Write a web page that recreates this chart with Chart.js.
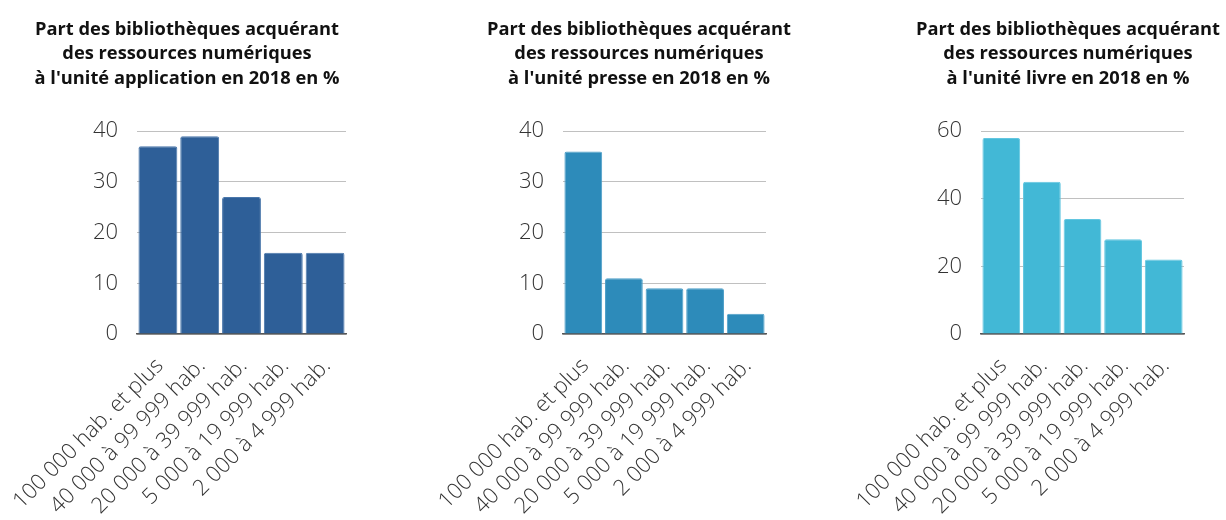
<!DOCTYPE html>
<html>
<head>
<meta charset="utf-8">
<script src="https://cdn.jsdelivr.net/npm/chart.js@4"></script>
<style>
    html, body { margin: 0; padding: 0; background: #fff; overflow: hidden; width: 1226px; height: 520px; }
    .box { position: absolute; top: 0; height: 520px; }
    #box-app { left: 0; width: 347px; }
    #box-presse { left: 400px; width: 397px; }
    #box-livre { left: 830px; width: 396px; }
</style>
</head>
<body>
<div class="box" id="box-app"><canvas id="chart-app"></canvas></div>
<div class="box" id="box-presse"><canvas id="chart-presse"></canvas></div>
<div class="box" id="box-livre"><canvas id="chart-livre"></canvas></div>
<script>
const categories = ['100 000 hab. et plus', '40 000 à 99 999 hab.', '20 000 à 39 999 hab.', '5 000 à 19 999 hab.', '2 000 à 4 999 hab.'];

const applicationValues = [37, 39, 27, 16, 16];
const presseValues = [36, 11, 9, 9, 4];
const livreValues = [58, 45, 34, 28, 22];

const applicationTicks = [0, 10, 20, 30, 40];
const presseTicks = [0, 10, 20, 30, 40];
const livreTicks = [0, 20, 40, 60];

const applicationTitle = ['Part des bibliothèques acquérant', 'des ressources numériques', "à l'unité application en 2018 en %"];
const presseTitle = ['Part des bibliothèques acquérant', 'des ressources numériques', "à l'unité presse en 2018 en %"];
const livreTitle = ['Part des bibliothèques acquérant', 'des ressources numériques', "à l'unité livre en 2018 en %"];

const FONT = "'Open Sans', 'DejaVu Sans', sans-serif";

// layout: [left padding, y axis width, right spacer width]
new Chart(
    document.getElementById('chart-app').getContext('2d'),
    barConfig(applicationValues, applicationTicks, applicationTitle, '#2e5f98', '#4a77ab', [27, 110, 1]));

new Chart(
    document.getElementById('chart-presse').getContext('2d'),
    barConfig(presseValues, presseTicks, presseTitle, '#2d8bba', '#4d9fc8', [81, 82, 31]));

new Chart(
    document.getElementById('chart-livre').getContext('2d'),
    barConfig(livreValues, livreTicks, livreTitle, '#42b8d6', '#62c6e0', [80, 71, 42]));

function barConfig(values, ticks, title, color, border, box) {
    const [padLeft, yWidth, spacer] = box;
    return {
        type: 'bar',
        data: {
            labels: categories,
            datasets: [{
                data: values,
                backgroundColor: color,
                borderColor: border,
                borderWidth: 1,
                borderRadius: 2,
                barPercentage: 0.93,
                categoryPercentage: 1,
                yAxisID: 'y'
            }]
        },
        options: {
            responsive: true,
            maintainAspectRatio: false,
            animation: false,
            layout: { padding: { left: padLeft, right: 0, top: 0, bottom: 0 } },
            plugins: {
                legend: { display: false },
                tooltip: { enabled: false },
                title: {
                    display: true,
                    text: title,
                    color: '#111',
                    font: { family: FONT, size: 18.3, weight: 'bold', lineHeight: 1.35 },
                    padding: { top: 17, bottom: 40 }
                }
            },
            scales: {
                x: {
                    grid: { display: false },
                    border: { display: true, color: '#555', width: 1.5 },
                    ticks: {
                        autoSkip: false,
                        minRotation: 45,
                        maxRotation: 45,
                        color: '#333',
                        padding: 11,
                        labelOffset: 2,
                        font: { family: FONT, size: 22, weight: 300 }
                    },
                    afterFit: scale => {
                        scale.height = 186;
                        scale.paddingLeft = 0;
                        scale.paddingRight = 0;
                    }
                },
                y: {
                    min: ticks[0],
                    max: ticks[ticks.length - 1],
                    afterBuildTicks: axis => { axis.ticks = ticks.map(v => ({ value: v })); },
                    grid: { color: '#c0c0c0', drawTicks: false },
                    border: { display: false },
                    ticks: {
                        color: '#333',
                        padding: 19,
                        font: { family: FONT, size: 22, weight: 300 }
                    },
                    afterFit: scale => { scale.width = yWidth; }
                },
                // empty right column so the title can be wider than the plot
                spacer: {
                    axis: 'y',
                    type: 'linear',
                    position: 'right',
                    grid: { display: false },
                    border: { display: false },
                    ticks: { display: false },
                    afterFit: scale => { scale.width = spacer; }
                }
            }
        }
    };
}
</script>
</body>
</html>
